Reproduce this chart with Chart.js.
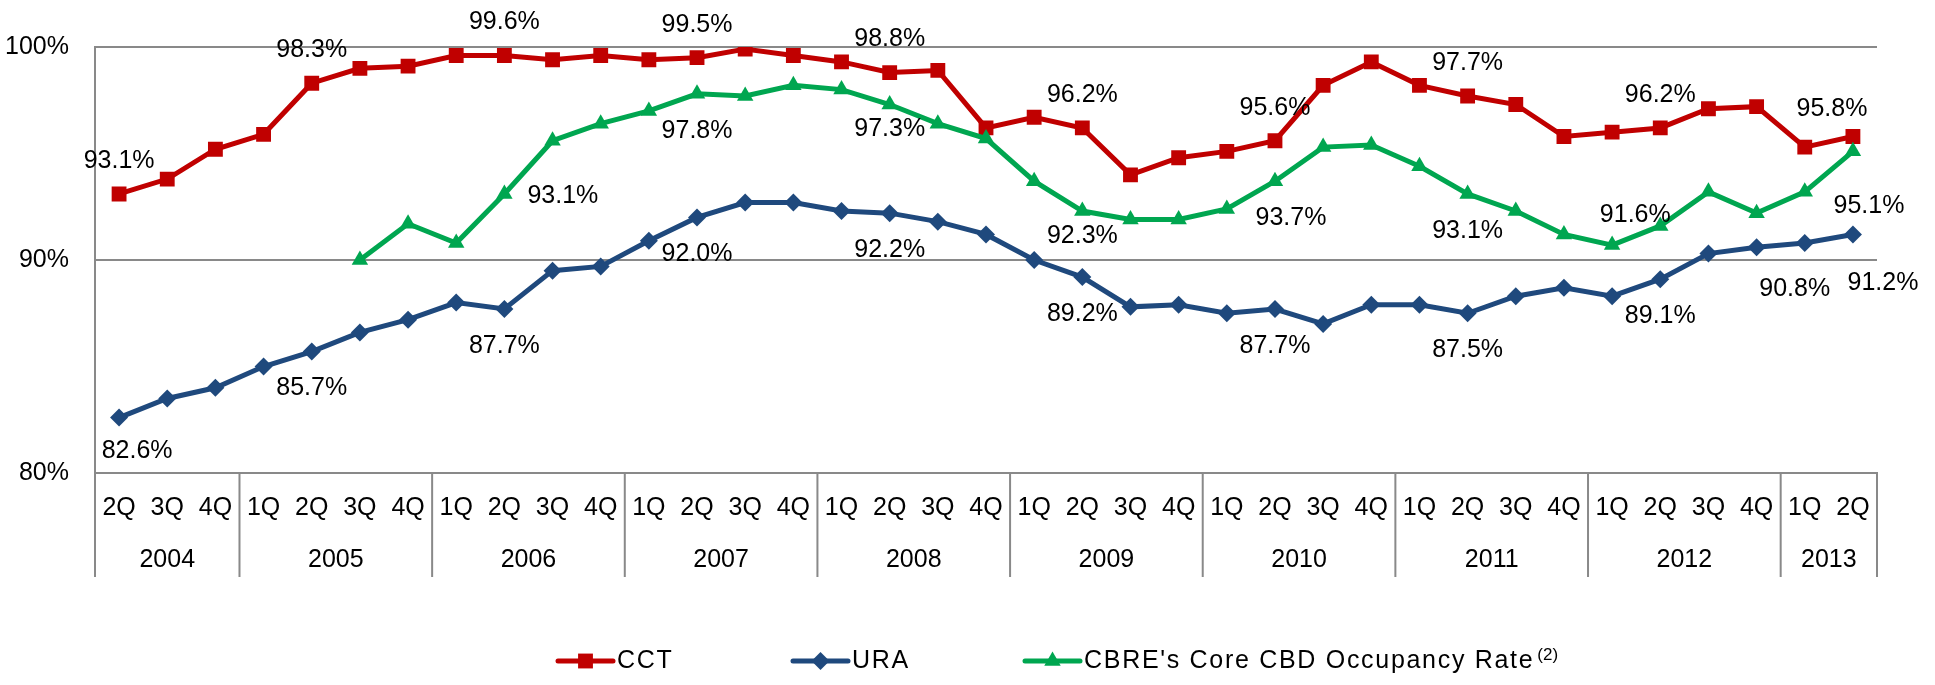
<!DOCTYPE html>
<html><head><meta charset="utf-8">
<script src="https://cdn.jsdelivr.net/npm/chart.js@4/dist/chart.umd.min.js"></script>
<style>html,body{margin:0;padding:0;background:#fff;overflow:hidden}#wrap{width:1935px;height:685px;position:relative}</style>
</head><body><div id="wrap"><canvas id="c" width="1935" height="685"></canvas></div>
<script>
const quarters = ['2Q','3Q','4Q','1Q','2Q','3Q','4Q','1Q','2Q','3Q','4Q','1Q','2Q','3Q','4Q','1Q','2Q','3Q','4Q','1Q','2Q','3Q','4Q','1Q','2Q','3Q','4Q','1Q','2Q','3Q','4Q','1Q','2Q','3Q','4Q','1Q','2Q'];
const years = ['2004','2005','2006','2007','2008','2009','2010','2011','2012','2013'];
const quartersPerYear = [3,4,4,4,4,4,4,4,4,2];
const cct = [93.1,93.8,95.2,95.9,98.3,99.0,99.1,99.6,99.6,99.4,99.6,99.4,99.5,99.9,99.6,99.3,98.8,98.9,96.2,96.7,96.2,94.0,94.8,95.1,95.6,98.2,99.3,98.2,97.7,97.3,95.8,96.0,96.2,97.1,97.2,95.3,95.8];
const ura = [82.6,83.5,84.0,85.0,85.7,86.6,87.2,88.0,87.7,89.5,89.7,90.9,92.0,92.7,92.7,92.3,92.2,91.8,91.2,90.0,89.2,87.8,87.9,87.5,87.7,87.0,87.9,87.9,87.5,88.3,88.7,88.3,89.1,90.3,90.6,90.8,91.2];
const cbre = [null,null,null,null,null,90.0,91.7,90.8,93.1,95.6,96.4,97.0,97.8,97.7,98.2,98.0,97.3,96.4,95.7,93.7,92.3,91.9,91.9,92.4,93.7,95.3,95.4,94.4,93.1,92.3,91.2,90.7,91.6,93.2,92.2,93.2,95.1];
const seriesNames = ['CCT','URA',"CBRE's Core CBD Occupancy Rate"];
const yMin = 80, yMax = 100, yStep = 10;

// which points carry a value label (index, placement, small nudges)
const labelPlan = [
  {ds:0, idx:[0,4,8,12,16,20,24,28,32], pos:'above'},
  {ds:0, idx:[36], pos:'above', dx:-21, dy:6},
  {ds:1, idx:[0], pos:'below', dx:18, dy:-4},
  {ds:1, idx:[4,8,12,16,20,24,28,32], pos:'below'},
  {ds:1, idx:[35], pos:'below', dx:-10, dy:9},
  {ds:1, idx:[36], pos:'below', dx:30, dy:12},
  {ds:2, idx:[8], pos:'right'},
  {ds:2, idx:[12,28], pos:'below'},
  {ds:2, idx:[16,20], pos:'below', dy:-12},
  {ds:2, idx:[24], pos:'below', dx:16},
  {ds:2, idx:[32], pos:'above', dx:-25, dy:22},
  {ds:2, idx:[36], pos:'below', dx:16, dy:18}
];

const FONT = '"Liberation Sans", Arial, sans-serif';
const GRID = '#898989';
const COLORS = ['#C00000','#1F497D','#00A650'];
const STYLES = ['rect','rectRot','triangle'];
const RADII = [10.5, 9, 9.5];
const legendX = [558, 793, 1025];

const overlay = {
  id:'overlay',
  afterDraw(chart){
    const ctx = chart.ctx, xs = chart.scales.x, ys = chart.scales.y, ca = chart.chartArea;
    ctx.save();
    // value labels
    ctx.font = '25px ' + FONT;
    ctx.fillStyle = '#000';
    ctx.textBaseline = 'middle';
    labelPlan.forEach(p => {
      const data = chart.data.datasets[p.ds].data;
      p.idx.forEach(i => {
        const v = data[i]; if (v == null) return;
        let x = xs.getPixelForValue(i), y = ys.getPixelForValue(v);
        let txt = v.toFixed(1) + '%';
        if (p.pos === 'above') { ctx.textAlign='center'; y -= 33; }
        else if (p.pos === 'below') { ctx.textAlign='center'; y += 37; }
        else { ctx.textAlign='left'; x += 23; y += 2; }
        ctx.fillText(txt, x + (p.dx||0), y + (p.dy||0));
      });
    });
    // year row and separators
    const top = xs.top, bot = xs.top + 104;
    ctx.strokeStyle = GRID; ctx.lineWidth = 2;
    let k = 0;
    const edge = (j) => j <= 0 ? ca.left : (j >= quarters.length ? ca.right : (xs.getPixelForValue(j-1)+xs.getPixelForValue(j))/2);
    ctx.beginPath();
    ctx.moveTo(edge(0), top); ctx.lineTo(edge(0), bot);
    ctx.textAlign='center';
    years.forEach((yr, n) => {
      const start = k, end = k + quartersPerYear[n];
      const xe = edge(end);
      ctx.moveTo(xe, top); ctx.lineTo(xe, bot);
      const cx = (xs.getPixelForValue(start) + xs.getPixelForValue(end-1))/2;
      ctx.fillText(yr, cx, top + 87);
      k = end;
    });
    ctx.stroke();
    // legend
    const ly = 661;
    seriesNames.forEach((name, n) => {
      const lx = legendX[n];
      ctx.strokeStyle = COLORS[n]; ctx.fillStyle = COLORS[n]; ctx.lineWidth = 5; ctx.lineCap='round';
      ctx.beginPath(); ctx.moveTo(lx, ly); ctx.lineTo(lx+55, ly); ctx.stroke();
      Chart.helpers.drawPoint(ctx, {pointStyle: STYLES[n], rotation:0, radius: RADII[n], borderWidth:0}, lx+27.5, ly);
      ctx.fillStyle = '#000'; ctx.font = '25px ' + FONT; ctx.textAlign='left'; ctx.textBaseline='middle';
      ctx.letterSpacing = '1.7px';
      ctx.fillText(name, lx+59, ly);
      const w = ctx.measureText(name).width;
      ctx.letterSpacing = '0px';
      if (n === 2) {
        ctx.font = '17px ' + FONT;
        ctx.fillText('(2)', lx+59+w+3, ly-6);
      }
    });
    ctx.restore();
  }
};

const mk = (n, data) => ({
  label: seriesNames[n], data, borderColor: COLORS[n], backgroundColor: COLORS[n],
  borderWidth: 5, pointStyle: STYLES[n], pointRadius: RADII[n], pointBorderWidth: 0,
  pointBackgroundColor: COLORS[n], pointHoverRadius: RADII[n], tension: 0, spanGaps: false,
  order: 2 - n
});

new Chart(document.getElementById('c'), {
  type: 'line',
  data: { labels: quarters, datasets: [mk(0, cct), mk(1, ura), mk(2, cbre)] },
  options: {
    responsive: false, animation: false, devicePixelRatio: 1,
    layout: { padding: { top: 47, right: 58, bottom: 108, left: 0 } },
    plugins: { legend: { display: false }, tooltip: { enabled: false } },
    scales: {
      x: {
        offset: true,
        grid: { display: false, drawTicks: false },
        border: { display: true, color: GRID, width: 2 },
        ticks: { autoSkip: false, maxRotation: 0, minRotation: 0, padding: 20, color: '#000', font: { family: FONT, size: 25 } },
        afterFit(s){ s.height = 104; }
      },
      y: {
        min: yMin, max: yMax,
        grid: { color: GRID, lineWidth: 2, drawTicks: false },
        border: { display: true, color: GRID, width: 2 },
        ticks: { stepSize: yStep, padding: 26, color: '#000', font: { family: FONT, size: 25 }, callback: v => v + '%' },
        afterFit(s){ s.width = 95; }
      }
    }
  },
  plugins: [overlay]
});
</script></body></html>
